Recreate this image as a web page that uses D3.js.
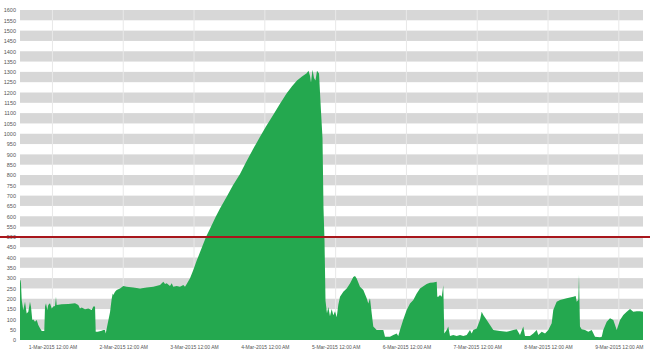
<!DOCTYPE html>
<html>
<head>
<meta charset="utf-8">
<script src="https://cdnjs.cloudflare.com/ajax/libs/d3/7.8.5/d3.min.js"></script>
<style>
  html, body { margin: 0; padding: 0; background: #fff; }
  svg { display: block; }
  .axis text { font-family: "Liberation Sans", Arial, sans-serif; fill: #555; }
</style>
</head>
<body>
<svg id="chart" width="653" height="357"></svg>
<script>
'use strict'

// hours since the first sample (28-Feb-2015 1:00 PM) and the reading at that time
const startTime = new Date(2015, 1, 28, 13, 0);
const endTime   = new Date(2015, 2, 9, 8, 12);

const hours = [
  0, 0.17, 0.34, 0.58, 1.12, 1.70, 2.27, 2.81, 3.39, 3.73,
  4.17, 4.51, 5.09, 5.66, 6.20, 6.78, 7.36, 8.24, 8.48, 8.81,
  9.25, 9.59, 10.17, 10.75, 11.29, 11.87, 12.20, 12.44, 14.14, 16.37,
  18.65, 19.76, 20.34, 20.92, 22.04, 23.15, 24.31, 24.85, 25.43, 25.66,
  26.34, 27.70, 28.24, 28.82, 29.05, 29.73, 30.51, 31.09, 31.43, 31.63,
  32.21, 32.78, 33.90, 35.02, 36.17, 38.41, 40.68, 42.95, 45.19, 47.46,
  48.58, 49.16, 49.73, 50.85, 51.43, 51.97, 53.12, 54.24, 55.36, 55.93,
  56.51, 57.63, 58.75, 59.90, 61.02, 63.05, 64.41, 66.44, 67.80, 70.07,
  72.20, 74.58, 76.61, 78.99, 81.36, 83.39, 85.77, 88.14, 90.41, 92.21,
  93.90, 95.60, 97.19, 97.80, 98.31, 98.65, 99.16, 99.67, 100.17, 100.68,
  101.36, 102.04, 102.55, 102.89, 103.23, 103.57, 104.07, 104.51, 105.09, 105.67,
  106.21, 106.79, 107.36, 107.90, 108.48, 109.60, 110.75, 111.87, 112.99, 113.57,
  114.14, 115.26, 116.38, 117.53, 118.07, 118.65, 119.23, 119.77, 120.92, 122.04,
  123.16, 123.74, 125.43, 126.55, 127.70, 128.24, 128.82, 129.94, 131.09, 132.21,
  133.33, 134.48, 135.60, 136.72, 137.87, 138.99, 140.11, 141.26, 141.47, 141.81,
  142.38, 142.96, 143.50, 143.84, 144.65, 145.19, 145.77, 146.89, 148.04, 149.16,
  150.28, 151.43, 152.55, 153.13, 153.67, 154.82, 155.94, 156.52, 157.06, 158.21,
  159.33, 160.45, 162.72, 164.99, 167.23, 168.38, 169.50, 170.62, 171.20, 172.89,
  174.01, 175.17, 175.71, 176.86, 177.98, 179.10, 180.25, 180.79, 181.94, 183.06,
  185.33, 187.57, 188.38, 188.72, 189.26, 189.50, 189.84, 190.42, 191.54, 192.66,
  193.82, 194.94, 196.63, 197.21, 197.74, 198.90, 200.02, 201.14, 201.71, 202.29,
  203.41, 204.53, 205.68, 206.80, 207.92, 209.07, 210.18, 211.20
];

const values = [
  288, 291, 275, 194, 145, 186, 129, 137, 186, 160,
  97, 100, 89, 97, 73, 57, 44, 44, 162, 178,
  145, 170, 178, 153, 162, 165, 210, 170, 173, 175,
  178, 170, 153, 158, 149, 153, 145, 162, 162, 40,
  40, 45, 48, 48, 32, 80, 135, 200, 226, 218,
  234, 242, 250, 262, 258, 255, 250, 254, 258, 267,
  283, 271, 275, 262, 275, 258, 262, 258, 267, 258,
  271, 299, 339, 385, 425, 500, 540, 600, 638, 695,
  750, 805, 862, 925, 986, 1035, 1090, 1145, 1196, 1230,
  1258, 1278, 1293, 1305, 1280, 1248, 1310, 1270, 1258, 1305,
  1292, 1110, 980, 640, 480, 190, 130, 160, 115, 150,
  120, 140, 110, 170, 210, 234, 250, 274, 306, 310,
  298, 258, 242, 202, 177, 202, 129, 65, 48, 48,
  48, 16, 16, 24, 32, 20, 48, 100, 145, 177,
  194, 226, 250, 261, 271, 277, 279, 282, 210, 210,
  218, 210, 266, 32, 48, 65, 19, 24, 19, 24,
  19, 24, 48, 32, 48, 56, 97, 137, 121, 97,
  73, 48, 44, 40, 48, 52, 24, 65, 19, 19,
  32, 48, 24, 40, 32, 48, 81, 145, 185, 194,
  202, 210, 213, 185, 194, 315, 65, 52, 48, 40,
  48, 16, 13, 16, 48, 89, 105, 97, 73, 48,
  97, 121, 137, 150, 137, 140, 140, 137
];

const yTicks = d3.range(0, 1601, 50);
const threshold = 500;

const data = hours.map((h, i) => ({
  t: d3.timeMinute.offset(startTime, Math.round(h * 60)),
  v: values[i]
}));

const svg = d3.select("#chart"),
      margin = {top: 10, right: 10, bottom: 17, left: 20},
      width  = +svg.attr("width") - margin.left - margin.right,
      height = +svg.attr("height") - margin.top - margin.bottom,
      g = svg.append("g").attr("transform", `translate(${margin.left},${margin.top})`);

const x = d3.scaleTime().domain([startTime, endTime]).range([0, width]);
const y = d3.scaleLinear().domain([0, 1600]).range([height, 0]);

// alternating grey bands every 50 units
g.selectAll(".band")
  .data(yTicks.filter(d => d % 100 === 50))
  .enter().append("rect")
    .attr("class", "band")
    .attr("x", 0)
    .attr("width", width)
    .attr("y", d => y(d + 50))
    .attr("height", d => y(d) - y(d + 50))
    .attr("fill", "#d7d7d7");

// faint vertical day lines
const days = x.ticks(d3.timeDay.every(1));
g.selectAll(".vline")
  .data(days)
  .enter().append("line")
    .attr("x1", d => x(d)).attr("x2", d => x(d))
    .attr("y1", 0).attr("y2", height)
    .attr("stroke", "#e8e8e8")
    .attr("stroke-width", 1);

// the readings
const area = d3.area()
  .x(d => x(d.t))
  .y0(y(0))
  .y1(d => y(d.v));

g.append("path")
  .datum(data)
  .attr("fill", "#24a84f")
  .attr("d", area);

// axes
const yAxis = g.append("g")
  .attr("class", "axis")
  .call(d3.axisLeft(y).tickValues(yTicks).tickFormat(d3.format("d"))
        .tickSize(0).tickPadding(4));
yAxis.select(".domain").remove();
yAxis.selectAll("text").attr("font-size", 5.5);

const xAxis = g.append("g")
  .attr("class", "axis")
  .attr("transform", `translate(0,${height})`)
  .call(d3.axisBottom(x).tickValues(days)
        .tickFormat(d3.timeFormat("%-d-%b-%Y %-I:%M %p"))
        .tickSize(0).tickPadding(5));
xAxis.select(".domain").remove();
xAxis.selectAll("text").attr("font-size", 5);

// threshold line across the full width
svg.append("line")
  .attr("x1", 0).attr("x2", 650)
  .attr("y1", margin.top + y(threshold)).attr("y2", margin.top + y(threshold))
  .attr("stroke", "#a8161c")
  .attr("stroke-width", 2);
</script>
</body>
</html>
